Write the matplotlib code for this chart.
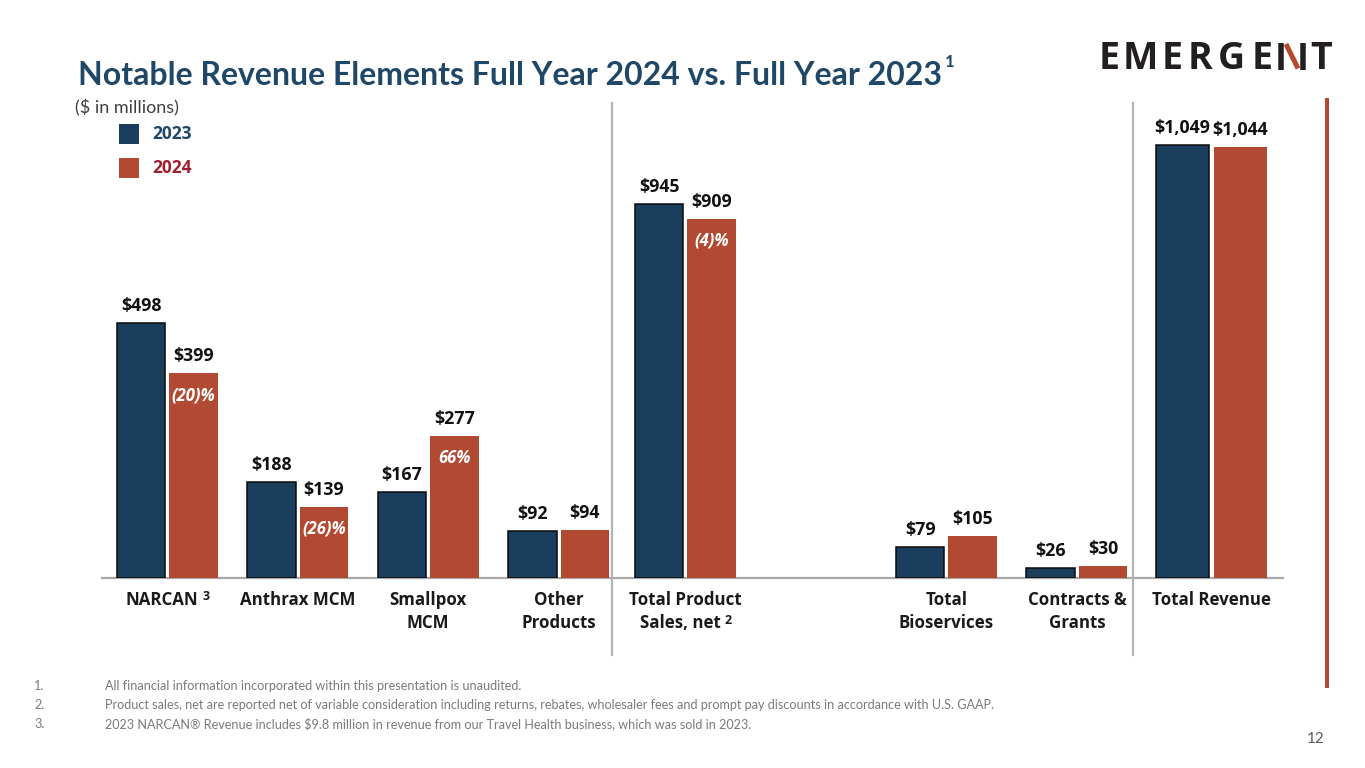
import matplotlib
matplotlib.use("Agg")
import matplotlib.pyplot as plt
from matplotlib.lines import Line2D
from matplotlib.patches import Rectangle

# ---------------- data ----------------
categories = ["NARCAN", "Anthrax MCM", "Smallpox\nMCM", "Other\nProducts",
              "Total Product\nSales, net", "Total\nBioservices",
              "Contracts &\nGrants", "Total Revenue"]
cat_superscripts = ["3", "", "", "", "2", "", "", ""]
values_2023 = [498, 188, 167, 92, 945, 79, 26, 1049]
values_2024 = [399, 139, 277, 94, 909, 105, 30, 1044]
change_labels = ["(20)%", "(26)%", "66%", "", "(4)%", "", "", ""]
series_names = ["2023", "2024"]
title_text = "Notable Revenue Elements Full Year 2024 vs. Full Year 2023"
title_note = "1"
unit_text = "($ in millions)"
footnotes = [
    ("1.", "All financial information incorporated within this presentation is unaudited."),
    ("2.", "Product sales, net are reported net of variable consideration including returns, rebates, wholesaler fees and prompt pay discounts in accordance with U.S. GAAP."),
    ("3.", "2023 NARCAN\u00ae Revenue includes $9.8 million in revenue from our Travel Health business, which was sold in 2023."),
]
page_number = "12"
logo_letters = ["E", "M", "E", "R", "G", "E", "N", "T"]

# ---------------- layout ----------------
slot = [0, 1, 2, 3, 3.97, 5.97, 6.97, 8]   # x slot of each category
panel = [0, 0, 0, 0, 1, 1, 1, 2]          # which value scale each group uses
panel_ylim = [932, 1209, 1157]

W, H, DPI = 1365, 768, 100
BOLDF = ['Open Sans', 'DejaVu Sans']
plt.rcParams['font.family'] = ['Lato', 'DejaVu Sans']
fig = plt.figure(figsize=(W / DPI, H / DPI), dpi=DPI)
fig.patch.set_facecolor("white")

def fx(px):
    return px / W

def fy(py):
    return 1 - py / H

PT = 72 / DPI  # points per pixel
BLUE = "#1b3e5c"
RED = "#b24a33"
TITLE_C = "#1f4767"
GRAY_LINE = "#a8a8a8"

AX_L, AX_R, AX_T, AX_B = 102, 1283, 100, 578
rect = [fx(AX_L), fy(AX_B), (AX_R - AX_L) / W, (AX_B - AX_T) / H]
axes = []
for p, top in enumerate(panel_ylim):
    ax = fig.add_axes(rect, label=f"panel{p}")
    ax.set_xlim(-0.5, 8.55)
    ax.set_ylim(0, top)
    ax.patch.set_alpha(0)
    ax.axis("off")
    axes.append(ax)

ax0 = axes[0]
ax0.axhline(0, color=GRAY_LINE, lw=1.6, clip_on=False, zorder=1)
renderer = fig.canvas.get_renderer()

for i in range(len(categories)):
    ax = axes[panel[i]]
    x = slot[i]
    if panel[i] == 2:
        w, off = 0.405, 0.222
    else:
        w, off = 0.372, 0.2
    v23, v24 = values_2023[i], values_2024[i]
    ax.bar(x - off, v23, width=w, color=BLUE, edgecolor="#0a0a0a", linewidth=1.1, zorder=2)
    ax.bar(x + off, v24, width=w, color=RED, edgecolor="none", zorder=2)
    for xx, vv in ((x - off, v23), (x + off, v24)):
        ax.annotate(f"${vv:,}", xy=(xx, vv), xytext=(0, 17 * PT), textcoords="offset points",
                    ha="center", va="center", fontsize=12.8, fontweight="bold", color="#111111",
                    family=BOLDF)
    if change_labels[i]:
        ax.annotate(change_labels[i], xy=(x + off, v24), xytext=(0, -22 * PT),
                    textcoords="offset points", ha="center", va="center", fontsize=12,
                    fontweight="bold", fontstyle="italic", color="white", zorder=3,
                    family=BOLDF)
    # category labels
    lines = categories[i].split("\n")
    for k, line in enumerate(lines):
        is_last = k == len(lines) - 1
        sup = cat_superscripts[i] if is_last else ""
        shift = -5 if sup else 0
        yoff = -(22 + 23 * k)
        t = ax.annotate(line, xy=(x, 0), xycoords=("data", "axes fraction"),
                        xytext=(shift * PT, yoff * PT), textcoords="offset points",
                        ha="center", va="center", fontsize=12.2, fontweight="bold",
                        color="#1a1a1a", family=BOLDF)
        if sup:
            tw = t.get_window_extent(renderer).width
            ax.annotate(sup, xy=(x, 0), xycoords=("data", "axes fraction"),
                        xytext=((shift + tw / 2 + 4) * PT, (yoff + 3) * PT),
                        textcoords="offset points", ha="left", va="center",
                        fontsize=9, fontweight="bold", color="#1a1a1a", family=BOLDF)

# separators
for sx in (3.41, 7.40):
    ax0.axvline(sx, ymin=(AX_B - 655) / (AX_B - AX_T), ymax=(AX_B - 103) / (AX_B - AX_T),
                color="#b4b4b4", lw=1.6, clip_on=False, zorder=1)

# right red line
fig.add_artist(Line2D([fx(1327), fx(1327)], [fy(100), fy(686)], color="#b5482f", lw=4 * PT))

# legend
for k, (name, col, tcol) in enumerate(zip(series_names, [BLUE, RED], [TITLE_C, "#9e1f2e"])):
    y0 = 124 + 34 * k
    fig.add_artist(Rectangle((fx(119), fy(y0 + 20)), 20 / W, 20 / H, transform=fig.transFigure,
                             facecolor=col, edgecolor="none"))
    fig.text(fx(152), fy(y0 + 10), name, ha="left", va="center", fontsize=12.5,
             fontweight="bold", color=tcol, family=BOLDF)

fig.text(fx(75), fy(108), unit_text, ha="left", va="center", fontsize=13, color="#404040")

# title, fitted to the reference width
title = fig.text(fx(78), fy(85), title_text, ha="left", va="baseline", fontsize=22,
                 fontweight="bold", color=TITLE_C)
bb = title.get_window_extent(renderer)
title.set_fontsize(22 * 862 / bb.width)
tb = title.get_window_extent(renderer)
fig.text(fx(78) + tb.width / W + 3 / W, fy(54), title_note, ha="left", va="top",
         fontsize=12, fontweight="bold", color=TITLE_C)

# footnotes
fsize = 9
probe = fig.text(0, 0, footnotes[1][1], fontsize=fsize)
pw = probe.get_window_extent(renderer).width
probe.remove()
fsize = fsize * 888 / pw
for k, (num, txt) in enumerate(footnotes):
    yy = 686 + 19 * k
    fig.text(fx(34), fy(yy), num, ha="left", va="center", fontsize=fsize, color="#7a7a7a")
    fig.text(fx(105), fy(yy), txt, ha="left", va="center", fontsize=fsize, color="#7a7a7a")

fig.text(fx(1325), fy(739), page_number, ha="right", va="center", fontsize=11, color="#595959")

# logo
LOGO_C = "#231f20"
centers = [1109, 1140, 1172, 1200, 1231, 1262, 1291.5, 1321]
for letter, cx in zip(logo_letters, centers):
    if letter == "N":
        fig.add_artist(Line2D([fx(1281), fx(1281)], [fy(43), fy(69.5)], color=LOGO_C, lw=5.5 * PT,
                              solid_capstyle="butt"))
        fig.add_artist(Line2D([fx(1302.5), fx(1302.5)], [fy(43), fy(69.5)], color=LOGO_C, lw=5.5 * PT,
                              solid_capstyle="butt"))
        fig.add_artist(Line2D([fx(1286), fx(1298)], [fy(44), fy(68.5)], color="#b5482f",
                              lw=5 * PT, solid_capstyle="butt"))
    else:
        fig.text(fx(cx), fy(69), letter, ha="center", va="baseline", fontsize=27,
                 fontweight="bold", color=LOGO_C, family=BOLDF)

fig.savefig("out.png", dpi=DPI, facecolor="white")
